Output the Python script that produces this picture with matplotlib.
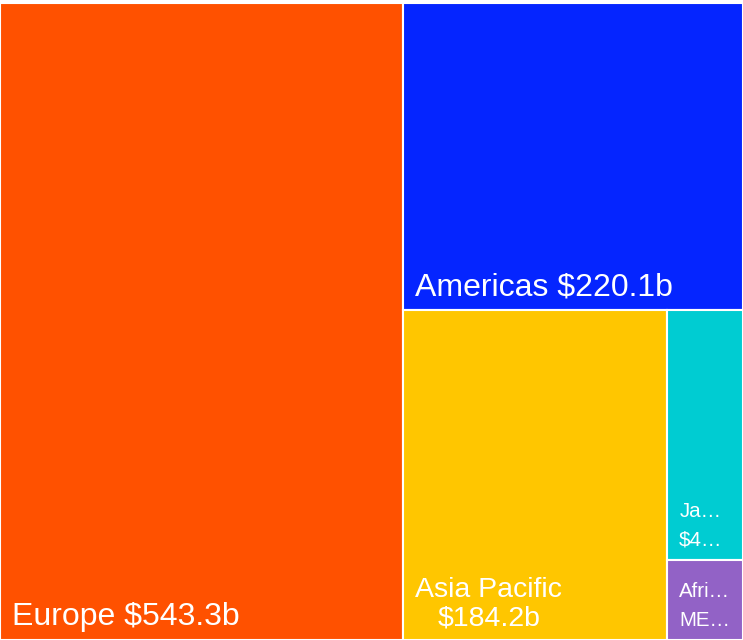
import matplotlib
matplotlib.use("Agg")
import matplotlib.pyplot as plt
from matplotlib.patches import Rectangle
from matplotlib.font_manager import FontProperties

# data (billions)
regions = ["Europe", "Americas", "Asia Pacific", "Japan", "Africa ME"]
values = [543.3, 220.1, 184.2, 40.1, 12.9]
colors = ["#FF5100", "#0525FF", "#FFC600", "#00CCD2", "#9262C6"]

W, H = 743, 640
TOP = 3
DPI = 100


def worst(row, side):
    s = sum(row)
    return max(max(side**2 * r / s**2, s**2 / (side**2 * r)) for r in row)


def layout_row(row, x, y, w, h):
    s = sum(row)
    rects = []
    if w >= h:
        cw = s / h
        yy = y
        for r in row:
            rects.append((x, yy, cw, r / cw))
            yy += r / cw
        return rects, (x + cw, y, w - cw, h)
    rh = s / w
    xx = x
    for r in row:
        rects.append((xx, y, r / rh, rh))
        xx += r / rh
    return rects, (x, y + rh, w, h - rh)


def squarify(vals, x, y, w, h):
    total = sum(vals)
    areas = [v / total * w * h for v in vals]
    rects = []
    i = 0
    while i < len(areas):
        side = min(w, h)
        row = [areas[i]]
        i += 1
        while i < len(areas) and worst(row + [areas[i]], side) <= worst(row, side):
            row.append(areas[i])
            i += 1
        r, (x, y, w, h) = layout_row(row, x, y, w, h)
        rects += r
    return rects


fig = plt.figure(figsize=(W / DPI, H / DPI), dpi=DPI)
ax = fig.add_axes([0, 0, 1, 1])
ax.set_xlim(0, W)
ax.set_ylim(H, 0)
ax.axis("off")
renderer = fig.canvas.get_renderer()

rects = squarify(values, 0, TOP, W, H - TOP)


def measure(s, prop):
    w, h, d = renderer.get_text_width_height_descent(s, prop, ismath=False)
    return w


def clip(s, maxw, prop):
    for k in range(len(s), 0, -1):
        t = s[:k].rstrip() + "\u2026"
        if measure(t, prop) <= maxw:
            return t
    return "\u2026"


def wrap(text, maxw, nmax, prop):
    words = text.split()
    lines = []
    i = 0
    while i < len(words) and len(lines) < nmax:
        line = words[i]
        i += 1
        if measure(line, prop) > maxw:
            line = clip(line, maxw, prop)
        else:
            while i < len(words) and measure(line + " " + words[i], prop) <= maxw:
                line += " " + words[i]
                i += 1
        lines.append(line)
    if i < len(words) and not lines[-1].endswith("\u2026"):
        lines[-1] = clip(lines[-1], maxw, prop) if measure(lines[-1] + "\u2026", prop) > maxw else lines[-1] + "\u2026"
    return lines


pitch = 28.5
for (x, y, w, h), name, v, c in zip(rects, regions, values, colors):
    ax.add_patch(Rectangle((x, y), w, h, facecolor=c, edgecolor="white", linewidth=1.5))

    fs_px = max(20.5, min(32.0, 0.108 * w))
    prop = FontProperties(family="Liberation Sans", size=fs_px * 72 / DPI)
    maxw = w - 23.5
    nmax = int((h - 14 - 5 - 0.72 * fs_px) // pitch) + 1
    lines = wrap(f"{name} ${v:.1f}b", maxw, nmax, prop)

    widths = [measure(s, prop) for s in lines]
    cx = x + 12 + max(widths) / 2
    base = y + h - 14.5
    for k, s in enumerate(reversed(lines)):
        ax.text(cx, base - k * pitch, s, fontproperties=prop, color="white",
                ha="center", va="baseline")

fig.savefig("out.png", dpi=DPI)
